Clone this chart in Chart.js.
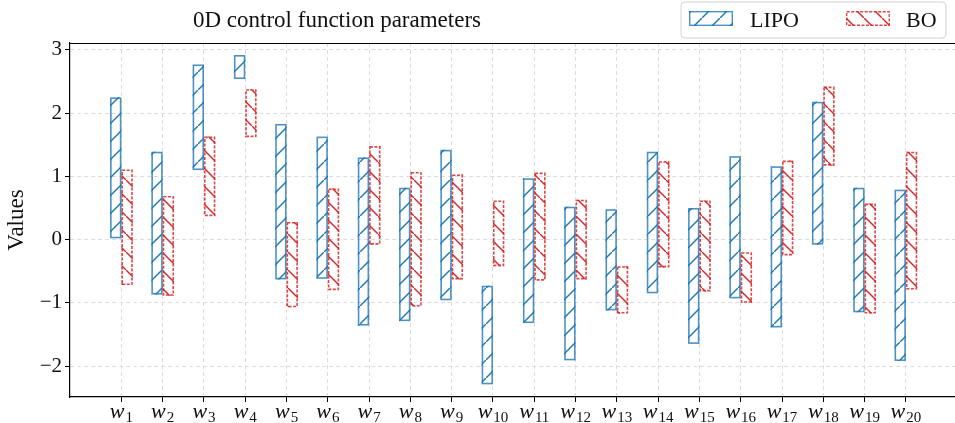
<!DOCTYPE html>
<html>
<head>
<meta charset="utf-8">
<script src="https://cdn.jsdelivr.net/npm/chart.js@4.4.1/dist/chart.umd.min.js"></script>
<style>
  html,body{margin:0;padding:0;background:#fff;overflow:hidden}
  #wrap{width:955px;height:423px;position:relative}
</style>
</head>
<body>
<div id="wrap"><canvas id="c"></canvas></div>
<script>
// data
const categories = [1,2,3,4,5,6,7,8,9,10,11,12,13,14,15,16,17,18,19,20];
const yTicks = [-2,-1,0,1,2,3];

const lipoLow  = [0.02,-0.87,1.10,2.54,-0.63,-0.62,-1.36,-1.29,-0.96,-2.29,-1.32,-1.91,-1.12,-0.85,-1.65,-0.93,-1.39,-0.08,-1.15,-1.92];
const lipoHigh = [2.25, 1.39,2.77,2.92, 1.83, 1.63, 1.30, 0.82, 1.42,-0.73, 0.97, 0.52, 0.48, 1.39, 0.50, 1.32, 1.16, 2.18, 0.82, 0.79];
const boLow    = [-0.72,-0.89,0.37,1.62,-1.07,-0.80,-0.08,-1.06,-0.63,-0.42,-0.65,-0.63,-1.17,-0.44,-0.82,-1.00,-0.25,1.17,-1.17,-0.79];
const boHigh   = [1.11, 0.69,1.63,2.38, 0.28, 0.81, 1.48, 1.07, 1.03, 0.62, 1.06, 0.63,-0.42, 1.24, 0.62,-0.20, 1.25,2.42, 0.57, 1.39];

const BLUE = '#1f77b4', RED = '#d62728';
const SERIF = '"Liberation Serif", "DejaVu Serif", serif';

// hatch patterns ('/' and '\')
function hatch(color, back){
  const s = 18, c = document.createElement('canvas');
  c.width = s; c.height = s;
  const g = c.getContext('2d');
  g.strokeStyle = color; g.lineWidth = 1.4;
  g.beginPath();
  if(!back){
    g.moveTo(-2, s+2); g.lineTo(s+2, -2);
  } else {
    g.moveTo(-2, -2); g.lineTo(s+2, s+2);
  }
  g.stroke();
  return g.createPattern(c, 'repeat');
}
const lipoFill = hatch(BLUE, false);
const boFill = hatch(RED, true);

const edges = {
  id:'edges',
  afterDatasetsDraw(chart){
    const ctx = chart.ctx;
    chart.data.datasets.forEach((ds, di)=>{
      const meta = chart.getDatasetMeta(di);
      ctx.save();
      ctx.lineWidth = 1.6;
      ctx.strokeStyle = di === 0 ? 'rgba(31,119,180,0.8)' : 'rgba(214,39,40,0.85)';
      ctx.setLineDash(di === 0 ? [] : [3,1.5]);
      meta.data.forEach(el=>{
        const p = el.getProps(['x','y','base','width'], true);
        const top = Math.min(p.y, p.base), h = Math.abs(p.base - p.y);
        ctx.strokeRect(p.x - p.width/2 + 0.8, top + 0.8, p.width - 1.6, h - 1.6);
      });
      ctx.restore();
    });
  }
};

const decor = {
  id:'decor',
  afterDraw(chart){
    const ctx = chart.ctx, a = chart.chartArea, xs = chart.scales.x;
    ctx.save();
    // top spine
    ctx.strokeStyle = '#000'; ctx.lineWidth = 1.2;
    ctx.beginPath(); ctx.moveTo(a.left, a.top + 0.5); ctx.lineTo(a.right, a.top + 0.5); ctx.stroke();

    // title
    ctx.fillStyle = '#111';
    ctx.font = '23px ' + SERIF;
    ctx.textAlign = 'center'; ctx.textBaseline = 'alphabetic';
    ctx.fillText('0D control function parameters', 337, 27);

    // x tick labels: italic w with upright subscript
    categories.forEach((n)=>{
      const px = xs.getPixelForValue(n);
      ctx.font = 'italic 22px ' + SERIF;
      const ww = ctx.measureText('w').width;
      ctx.font = '15px ' + SERIF;
      const sw = ctx.measureText(String(n)).width;
      const x0 = px - (ww + sw + 1)/2;
      ctx.textAlign = 'left';
      ctx.font = 'italic 22px ' + SERIF;
      ctx.fillText('w', x0, 418);
      ctx.font = '15px ' + SERIF;
      ctx.fillText(String(n), x0 + ww + 1, 422);
    });

    // legend
    const lx = 681, ly = 2, lw = 265, lh = 36, r = 4;
    ctx.beginPath();
    ctx.moveTo(lx + r, ly); ctx.lineTo(lx + lw - r, ly); ctx.arcTo(lx + lw, ly, lx + lw, ly + r, r);
    ctx.lineTo(lx + lw, ly + lh - r); ctx.arcTo(lx + lw, ly + lh, lx + lw - r, ly + lh, r);
    ctx.lineTo(lx + r, ly + lh); ctx.arcTo(lx, ly + lh, lx, ly + lh - r, r);
    ctx.lineTo(lx, ly + r); ctx.arcTo(lx, ly, lx + r, ly, r);
    ctx.closePath();
    ctx.fillStyle = 'rgba(255,255,255,0.9)'; ctx.fill();
    ctx.strokeStyle = '#d0d0d0'; ctx.lineWidth = 1; ctx.stroke();

    const items = [
      {x:689, fill:lipoFill, edge:'rgba(31,119,180,0.8)', dash:[], text:'LIPO', tx:750},
      {x:846, fill:boFill, edge:'rgba(214,39,40,0.85)', dash:[3,1.5], text:'BO', tx:906}
    ];
    items.forEach(it=>{
      ctx.fillStyle = it.fill; ctx.fillRect(it.x, 11, 44, 15);
      ctx.setLineDash(it.dash); ctx.strokeStyle = it.edge; ctx.lineWidth = 1.4;
      ctx.strokeRect(it.x + 0.7, 11.7, 42.6, 13.6);
      ctx.setLineDash([]);
      ctx.fillStyle = '#111'; ctx.font = '22px ' + SERIF; ctx.textAlign = 'left';
      ctx.fillText(it.text, it.tx, 27);
    });
    ctx.restore();
  }
};

new Chart(document.getElementById('c'), {
  type:'bar',
  data:{
    datasets:[
      { label:'LIPO', data:categories.map((c,i)=>({x:c, y:[lipoLow[i], lipoHigh[i]]})),
        backgroundColor:lipoFill, borderWidth:0 },
      { label:'BO', data:categories.map((c,i)=>({x:c, y:[boLow[i], boHigh[i]]})),
        backgroundColor:boFill, borderWidth:0 }
    ]
  },
  options:{
    responsive:true,
    maintainAspectRatio:false,
    animation:false,
    layout:{ padding:{ top:43, left:0, right:0, bottom:0 } },
    datasets:{ bar:{ categoryPercentage:0.55, barPercentage:1.0, grouped:true } },
    plugins:{ legend:{ display:false }, title:{ display:false }, tooltip:{ enabled:false } },
    scales:{
      x:{
        type:'linear', min:-0.245, max:21.19, offset:false,
        afterBuildTicks(s){ s.ticks = categories.map(v=>({value:v})); },
        afterFit(s){ s.height = 26; },
        ticks:{ display:false },
        grid:{ offset:false, color:'#dcdcdc', lineWidth:1, drawTicks:true, tickLength:5, tickColor:'#000', tickWidth:1 },
        border:{ display:true, color:'#000', width:1.2, dash:[4,3] }
      },
      y:{
        min:-2.49, max:3.11,
        afterBuildTicks(s){ s.ticks = yTicks.map(v=>({value:v})); },
        afterFit(s){ s.width = 70; },
        ticks:{ color:'#111', padding:3, font:{ family:SERIF, size:21 },
                callback:v => v < 0 ? '\u2212' + Math.abs(v) : String(v) },
        grid:{ color:'#dcdcdc', lineWidth:1, drawTicks:true, tickLength:5, tickColor:'#000', tickWidth:1 },
        border:{ display:true, color:'#000', width:1.2, dash:[4,3] },
        title:{ display:true, text:'Values', color:'#111', font:{ family:SERIF, size:23 }, padding:{ top:3, bottom:0 } }
      }
    }
  },
  plugins:[edges, decor]
});
</script>
</body>
</html>
